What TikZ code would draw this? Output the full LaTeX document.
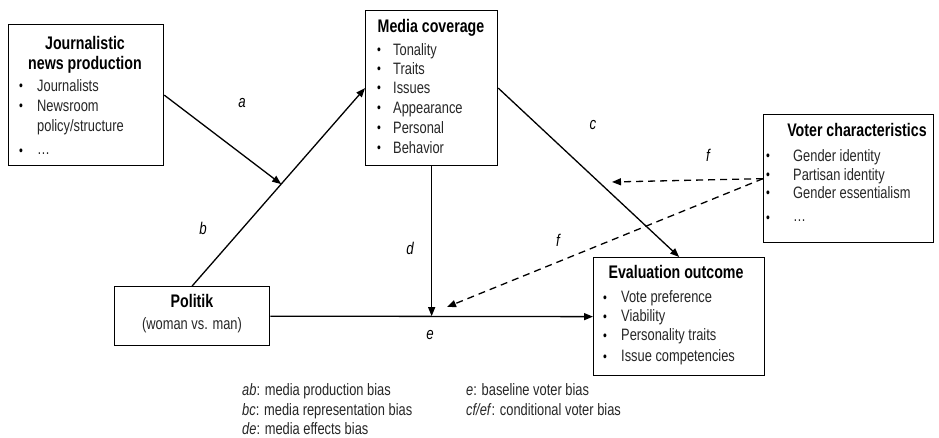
\documentclass[tikz,border=0pt]{standalone}
\usepackage{fontspec}
\setmainfont{Liberation Sans}[FakeStretch=0.78]
\usetikzlibrary{arrows.meta}
\begin{document}
\begin{tikzpicture}[x=1pt,y=-1pt,
 box/.style={draw,line width=1.3pt,rectangle,inner sep=0pt,anchor=north west},
 ttl/.style={font=\fontsize{18.2}{21}\selectfont\bfseries,inner sep=0pt,text height=13pt,text depth=4pt},
 itm/.style={font=\fontsize{16.5}{19}\selectfont,text=black!85,inner sep=0pt,anchor=west,text height=12pt,text depth=3.5pt},
 bul/.style={font=\fontsize{14}{18}\selectfont,inner sep=0pt,text height=11pt,text depth=3pt},
 lbl/.style={font=\fontsize{17}{20}\selectfont\itshape,inner sep=0pt},
 arr/.style={line width=1.3pt,-{Triangle[length=9pt,width=7pt]}},
 darr/.style={arr,dash pattern=on 7pt off 5pt}]
\useasboundingbox (0,0) rectangle (939,438);

% boxes
\node[box,minimum width=155pt,minimum height=141pt] (jour) at (8,24) {};
\node[box,minimum width=132pt,minimum height=155pt] (media) at (365,10) {};
\node[box,minimum width=170pt,minimum height=128pt] (voter) at (763,114) {};
\node[box,minimum width=171pt,minimum height=118pt] (eval) at (593,257) {};
\node[box,minimum width=155pt,minimum height=59pt] (pol) at (114,286) {};

% journalistic box text
\node[ttl] (jtA) at (85,45) {Journalistic};
\node[ttl] (jtB) at (85,65) {news production};
\node[bul] (jb1) at (21,87) {•};
\node[itm] (ji1) at (37,87) {Journalists};
\node[bul] (jb2) at (21,107) {•};
\node[itm] (ji2) at (37,107) {Newsroom};
\node[itm] (ji3) at (37,127) {policy/structure};
\node[bul] (jb4) at (21,152) {•};
\node[itm] (ji4) at (37,150) {…};

% media box text
\node[ttl] (mt) at (431,28) {Media coverage};
\foreach \yy/\tt [count=\i] in {51/Tonality,70/Traits,89/Issues,109/Appearance,129/Personal,149/Behavior}{
  \node[bul] (mb\i) at (379,\yy) {•};
  \node[itm] (mi\i) at (393,\yy) {\tt};
}

% voter box text
\node[ttl] (vt) at (857,132) {Voter characteristics};
\foreach \yy/\tt [count=\i] in {157/Gender identity,176/Partisan identity,194/Gender essentialism}{
  \node[bul] (vb\i) at (768,\yy) {•};
  \node[itm] (vi\i) at (793,\yy) {\tt};
}
\node[bul] (vb4) at (768,219) {•};
\node[itm] (vi4) at (793,217) {…};

% evaluation box text
\node[ttl] (et) at (676,274) {Evaluation outcome};
\foreach \yy/\tt [count=\i] in {298/Vote preference,317/Viability,336/Personality traits,357/Issue competencies}{
  \node[bul] (eb\i) at (605,\yy) {•};
  \node[itm] (ei\i) at (621,\yy) {\tt};
}

% politik box text
\node[ttl] (pt) at (192,303) {Politik};
\node[itm,anchor=center] (pi) at (192,325) {(woman vs. man)};

% connectors
\path (pol.north) -- (media.west) coordinate[pos=0.515] (bmid);
\coordinate (emid) at (media.south |- pol.east);
\coordinate (f1) at (612,182);
\coordinate (f2) at (447,307);
\draw[arr] (jour.east) -- (bmid);
\draw[arr] (pol.north) -- (media.west);
\draw[arr] (media.east) -- (eval.north);
\draw[arr] (media.south) -- (emid);
\draw[arr] (pol.east) -- (eval.west);
\draw[darr] (voter.west) -- (f1);
\draw[darr] (voter.west) -- (f2);

% path labels
\node[lbl] (la) at (242,103) {a};
\node[lbl] (lb) at (203,228) {b};
\node[lbl] (lc) at (593,125) {c};
\node[lbl] (ld) at (410,248) {d};
\node[lbl] (le) at (430,335) {e};
\node[lbl] (lf1) at (708,155) {f};
\node[lbl] (lf2) at (558,240) {f};

% legend
\node[itm] (g1) at (242,391) {\textit{ab}: media production bias};
\node[itm] (g2) at (242,411) {\textit{bc}: media representation bias};
\node[itm] (g3) at (242,430) {\textit{de}: media effects bias};
\node[itm] (g4) at (466,391) {\textit{e}: baseline voter bias};
\node[itm] (g5) at (466,411) {\textit{cf/ef}: conditional voter bias};
\end{tikzpicture}
\end{document}
